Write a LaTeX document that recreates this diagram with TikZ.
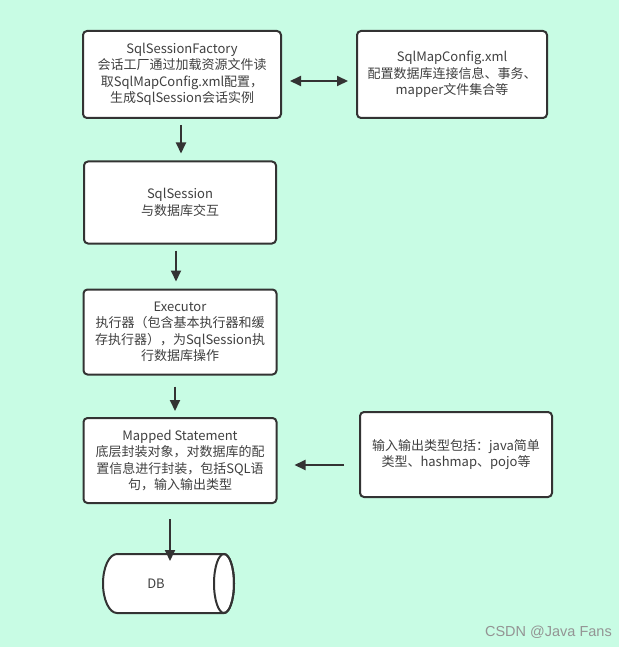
\documentclass[tikz,border=0pt]{standalone}
\usepackage{fontspec}
\setmainfont{Noto Sans CJK SC}
\newfontfamily\wmfont{Liberation Sans}
\usetikzlibrary{arrows.meta}
\definecolor{bg}{RGB}{200,252,228}
\definecolor{txt}{RGB}{64,64,64}
\definecolor{edgec}{RGB}{51,51,51}
\begin{document}
\begin{tikzpicture}[x=1pt,y=-1pt,
  box/.style={draw=edgec, line width=2pt, fill=white, rounded corners=4pt,
    inner sep=0pt, align=center, text=txt,
    font=\fontsize{13}{16.5}\selectfont},
  arr/.style={draw=edgec, line width=2pt, -{Triangle[length=11pt,width=10pt]}},
  darr/.style={draw=edgec, line width=2pt, {Triangle[length=11pt,width=10pt]}-{Triangle[length=11pt,width=10pt]}}]
\fill[bg] (0,0) rectangle (619,647);
\useasboundingbox (0,0) rectangle (619,647);

\node[box, minimum width=198pt, minimum height=87pt] (b1) at (182,74.5)
  {SqlSessionFactory\\会话工厂通过加载资源文件读\\取SqlMapConfig.xml配置，\\生成SqlSession会话实例};
\node[box, minimum width=190pt, minimum height=87pt] (b2) at (452,74.5)
  {SqlMapConfig.xml\\配置数据库连接信息、事务、\\mapper文件集合等};
\node[box, minimum width=192pt, minimum height=82pt] (b3) at (180,202.5)
  {SqlSession\\与数据库交互};
\node[box, minimum width=193pt, minimum height=85pt] (b4) at (180,332)
  {Executor\\执行器（包含基本执行器和缓\\存执行器），为SqlSession执\\行数据库操作};
\node[box, minimum width=193pt, minimum height=85pt] (b5) at (180,460.5)
  {Mapped Statement\\底层封装对象，对数据库的配\\置信息进行封装，包括SQL语\\句，输入输出类型};
\node[box, minimum width=192pt, minimum height=85pt] (b6) at (456,454.5)
  {输入输出类型包括：java简单\\类型、hashmap、pojo等};

% DB cylinder
\path[fill=white, draw=edgec, line width=2pt]
  (224,554) -- (117,554) arc[start angle=90, end angle=270, x radius=14pt, y radius=29.5pt]
  -- (224,613) arc[start angle=-90, end angle=90, x radius=10pt, y radius=29.5pt] -- cycle;
\draw[edgec, line width=2pt] (224,583.5) ellipse[x radius=10pt, y radius=29.5pt];
\node[text=txt, font=\fontsize{13}{16}\selectfont, inner sep=0pt] (db) at (156,583.5) {DB};
\coordinate (dbtop) at (170,554);

\draw[arr] ([shift={(-1,6)}]b1.south) -- ([shift={(1,-7)}]b3.north);
\draw[arr] ([shift={(-4,6)}]b3.south) -- ([shift={(-4,-7)}]b4.north);
\draw[arr] ([shift={(-5,11)}]b4.south) -- ([shift={(-5,-6)}]b5.north);
\draw[arr] ([shift={(-10,15)}]b5.south) -- ([yshift=-7]dbtop);
\draw[darr] ([shift={(8,6.5)}]b1.east) -- ([shift={(-8,6.5)}]b2.west);
\draw[arr] ([shift={(-15,10.5)}]b6.west) -- ([shift={(17,4.5)}]b5.east);

\node[text=black!42, font=\wmfont\fontsize{14.5}{16}\selectfont, inner sep=0pt, anchor=east] (wm) at (612,632) {CSDN @Java Fans};
\end{tikzpicture}
\end{document}
